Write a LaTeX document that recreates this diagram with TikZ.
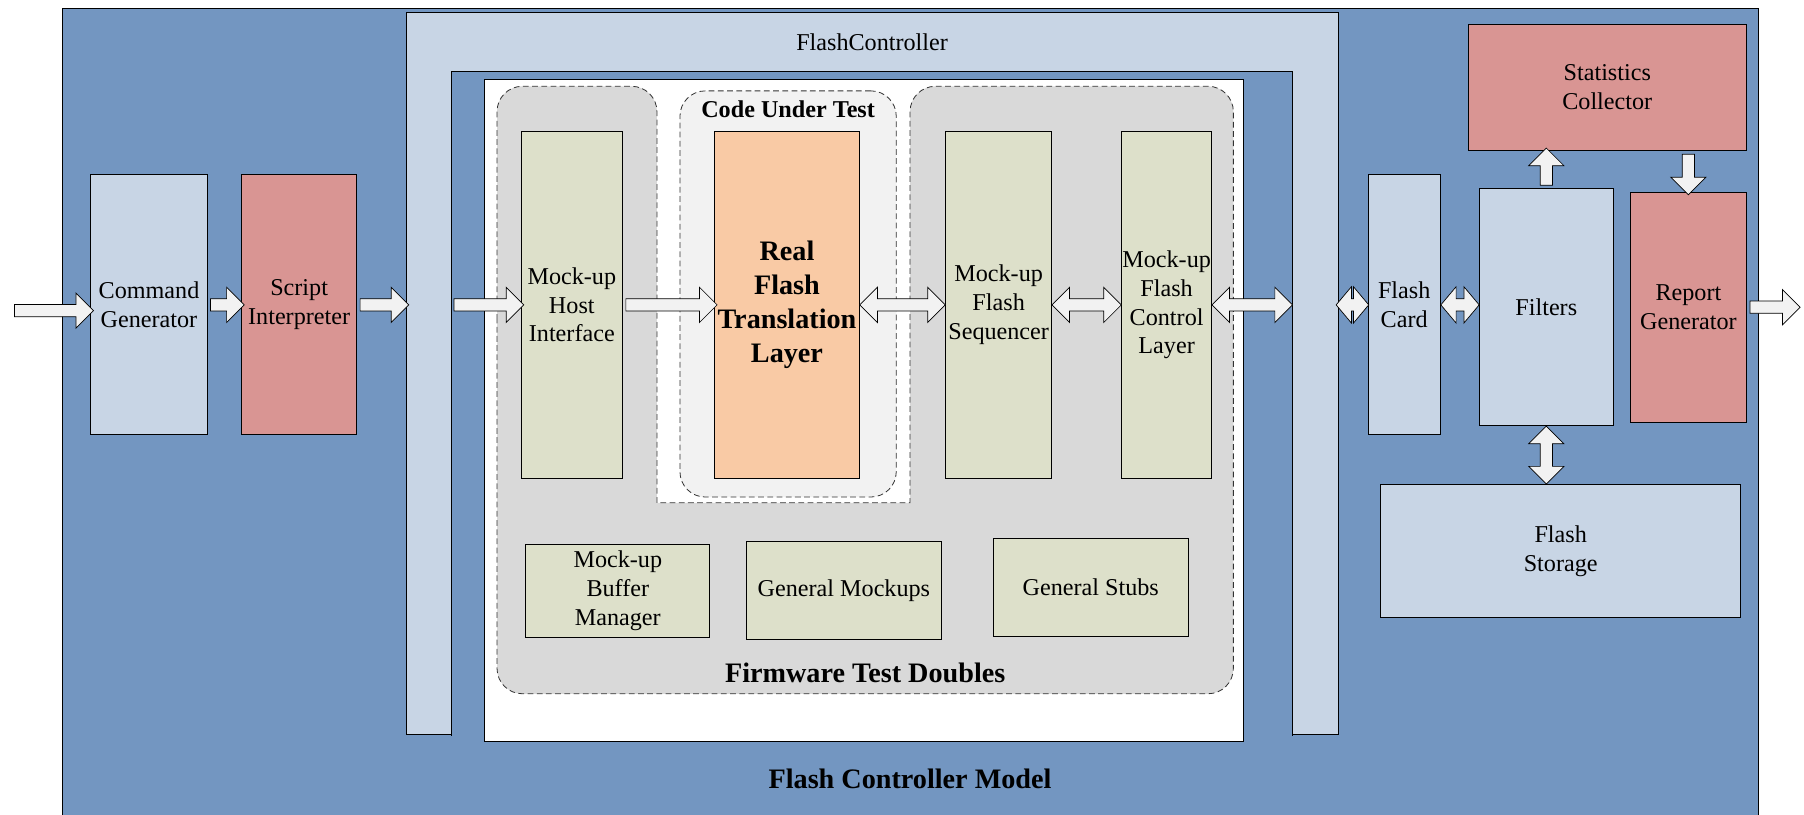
\documentclass[tikz,border=0pt]{standalone}
\usepackage{fontspec}
\setmainfont{Liberation Serif}
\usepackage{tikz}
\usetikzlibrary{calc,shapes.arrows}

\definecolor{modelblue}{HTML}{7396C1}
\definecolor{paleblue}{HTML}{C8D5E5}
\definecolor{rosered}{HTML}{D99593}
\definecolor{sage}{HTML}{DDE0CA}
\definecolor{peach}{HTML}{F9CAA5}
\definecolor{groupgray}{HTML}{D9D9D9}
\definecolor{cutgray}{HTML}{F2F2F2}

\newcommand{\boxfont}{\fontsize{21}{25}\selectfont}
\newcommand{\cutfont}{\fontsize{21}{25}\selectfont\bfseries}
\newcommand{\ftlfont}{\fontsize{24.5}{29.5}\selectfont\bfseries}
\newcommand{\blockarrow}[3][single arrow]{%
  \path let \p1=#2, \p2=#3,
    \n1={veclen(\x2-\x1,\y2-\y1)}, \n2={atan2(\y2-\y1,\x2-\x1)} in
    ($#2!0.5!#3$) node[blk,#1,minimum height=\n1,rotate=\n2] {};}

\begin{document}
\begin{tikzpicture}[x=1pt,y=-1pt,
  box/.style={draw, line width=.7pt, align=center, inner sep=0pt, font=\boxfont},
  blk/.style={draw, fill=cutgray, line width=.6pt, inner xsep=0pt, inner ysep=5pt,
    minimum width=0pt, outer sep=0pt,
    single arrow head extend=10pt, double arrow head extend=10pt},
  shortblk/.style={double arrow, double arrow tip angle=100, double arrow head extend=10.5pt},
  group/.style={draw=black!80, dash pattern=on 5pt off 3pt, line width=.7pt}]
\fill[white] (0,0) rectangle (1568,708);
\path[use as bounding box] (0,0) rectangle (1568,708);
\draw[fill=modelblue, line width=.7pt] (54,7) rectangle (1528,730);

\node[draw, fill=paleblue, line width=.7pt, minimum width=810, minimum height=627] (fc) at (758,324.5) {};
\node[fill=modelblue, inner sep=0pt, minimum width=731, minimum height=577, anchor=north west] (fcin) at (392,62) {};
\draw[line width=.7pt] (fcin.south west) -- (fcin.north west) -- (fcin.north east) -- (fcin.south east);
\node[draw, fill=white, line width=.7pt, minimum width=659, minimum height=575, anchor=north west] (fw) at (421,69) {};
\node[font=\boxfont] (fclabel) at (758,37) {FlashController};

\draw[group, fill=groupgray]
(432,300) [rounded corners=22pt] -- (432,75) -- (571,75)
[sharp corners] -- (571,437) -- (791,437)
[rounded corners=22pt] -- (791,75) -- (1072,75) -- (1072,603) -- (432,603) -- cycle;
\node[group, fill=cutgray, rounded corners=22pt, minimum width=188, minimum height=353] (cut) at (685,255.5) {};
\node[font=\cutfont] (cutlabel) at (685,95) {Code Under Test};

\node[box, fill=paleblue, minimum width=101, minimum height=226] (cmdgen) at (129.5,265) {Command\\Generator};
\node[box, fill=rosered, minimum width=100, minimum height=226] (script) at (260,265) {Script\\Interpreter};
\node[box, fill=sage, minimum width=88, minimum height=302] (host) at (497,265) {Mock-up\\Host\\Interface};
\node[box, fill=peach, minimum width=126, minimum height=302, font=\ftlfont] (ftl) at (684,265) {Real\\Flash\\Translation\\Layer};
\node[box, fill=sage, minimum width=92, minimum height=302] (seq) at (868,265) {Mock-up\\Flash\\Sequencer};
\node[box, fill=sage, minimum width=78, minimum height=302] (fcl) at (1014,265) {Mock-up\\Flash\\Control\\Layer};
\node[box, fill=sage, minimum width=160, minimum height=81] (buffer) at (537,513.5) {Mock-up\\Buffer\\Manager};
\node[box, fill=sage, minimum width=169, minimum height=85] (mockups) at (733.5,513.5) {General Mockups};
\node[box, fill=sage, minimum width=170, minimum height=85] (stubs) at (948,510.5) {General Stubs};
\node[font=\ftlfont] (doubles) at (752,585) {Firmware Test Doubles};

\node[box, fill=paleblue, minimum width=63, minimum height=226] (card) at (1220.5,265) {Flash\\Card};
\node[box, fill=paleblue, minimum width=116, minimum height=206] (filters) at (1344,267) {Filters};
\node[box, fill=rosered, minimum width=242, minimum height=110] (stats) at (1397,76) {Statistics\\Collector};
\node[box, fill=rosered, minimum width=101, minimum height=200] (report) at (1467.5,267) {Report\\Generator};
\node[box, fill=paleblue, minimum width=313, minimum height=116] (storage) at (1356.5,479) {Flash\\Storage};
\node[font=\ftlfont] (model) at (791,677) {Flash Controller Model};

\coordinate (in) at (10,270);
\coordinate (out) at (1562,267);
\blockarrow{(in)}{(cmdgen.west |- in)}
\blockarrow{(cmdgen.east)}{(script.west)}
\blockarrow{(script.east)}{(fc.west |- script.east)}
\blockarrow{(fcin.west |- host.west)}{(host.west)}
\blockarrow{(host.east)}{(ftl.west)}
\blockarrow[double arrow]{(ftl.east)}{(seq.west)}
\blockarrow[double arrow]{(seq.east)}{(fcl.west)}
\blockarrow[double arrow]{(fcl.east)}{(fcin.east |- fcl.east)}
\blockarrow[shortblk]{([xshift=-2pt]fc.east |- card.west)}{([xshift=1pt]card.west)}
\blockarrow[shortblk]{(card.east)}{(filters.west |- card.east)}
\blockarrow{(filters.north)}{(filters.north |- stats.south)}
\blockarrow{(report.north |- stats.south)}{(report.north)}
\blockarrow{(report.east)}{(out)}
\blockarrow[double arrow]{(filters.south)}{(filters.south |- storage.north)}
\end{tikzpicture}
\end{document}
